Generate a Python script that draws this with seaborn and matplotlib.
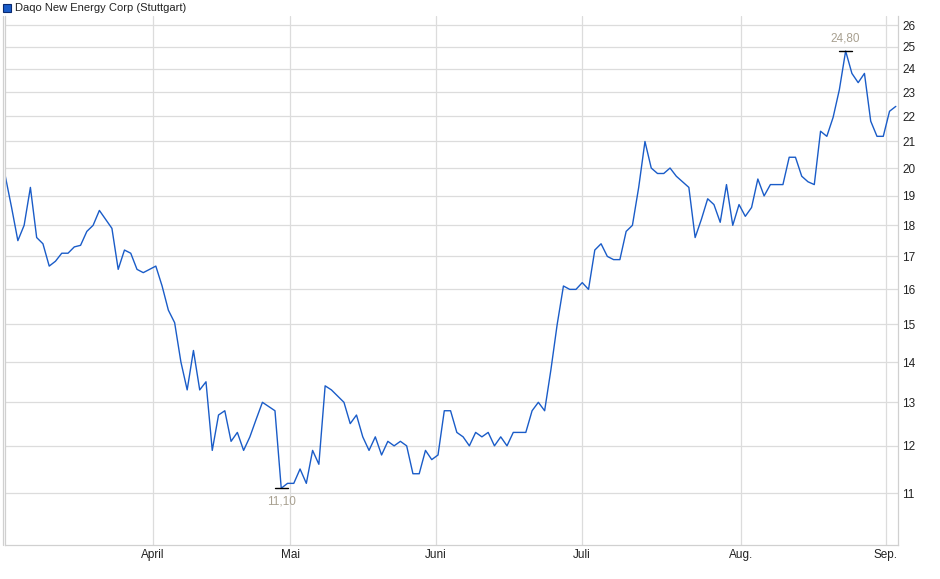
import matplotlib
matplotlib.use("Agg")
import matplotlib.pyplot as plt
from matplotlib.ticker import FixedLocator, NullLocator, FixedFormatter
import numpy as np
import pandas as pd
import seaborn as sns

values = [19.7, 18.6, 17.5, 18.0, 19.3, 17.6, 17.4, 16.7, 16.85, 17.1, 17.1, 17.3,
          17.35, 17.8, 18.0, 18.5, 18.2, 17.9, 16.6, 17.2, 17.1, 16.6, 16.5, 16.6,
          16.7, 16.1, 15.4, 15.05, 14.0, 13.3, 14.3, 13.3, 13.5, 11.9, 12.7, 12.8,
          12.1, 12.3, 11.9, 12.2, 12.6, 13.0, 12.9, 12.8, 11.1,
          11.2, 11.2, 11.5, 11.2, 11.9, 11.6, 13.4, 13.3, 13.15, 13.0, 12.5, 12.7,
          12.2, 11.9, 12.2, 11.8, 12.1, 12.0, 12.1, 12.0, 11.4, 11.4, 11.9, 11.7,
          11.8, 12.8, 12.8, 12.3, 12.2, 12.0, 12.3, 12.2, 12.3, 12.0, 12.2, 12.0,
          12.3, 12.3, 12.3, 12.8, 13.0, 12.8, 13.8, 15.0, 16.1, 16.0, 16.0, 16.2,
          16.0, 17.2, 17.4, 17.0, 16.9, 16.9, 17.8, 18.0, 19.3, 21.0, 20.0, 19.8,
          19.8, 20.0, 19.7, 19.5, 19.3, 17.6, 18.2, 18.9, 18.7, 18.1, 19.4, 18.0,
          18.7, 18.3, 18.6, 19.6, 19.0, 19.4, 19.4, 19.4, 20.4, 20.4, 19.7, 19.5,
          19.4, 21.4, 21.2, 21.95, 23.1, 24.8, 23.8, 23.4, 23.8, 21.8, 21.2, 21.2,
          22.2, 22.4]
y_ticks = [11, 12, 13, 14, 15, 16, 17, 18, 19, 20, 21, 22, 23, 24, 25, 26]
# Monatsanfaenge als Handelstag-Index
month_pos = [23.5, 45.4, 68.6, 91.9, 117.3, 140.4]
month_labels = ["April", "Mai", "Juni", "Juli", "Aug.", "Sep."]
name = "Daqo New Energy Corp (Stuttgart)"

df = pd.DataFrame({"tag": np.arange(len(values)), "kurs": values})

sns.set_style("white")
plt.rcParams["font.family"] = ["Liberation Sans", "DejaVu Sans"]

fig = plt.figure(figsize=(9.4, 5.79), dpi=100)
ax = fig.add_axes([5 / 940, 34 / 579, 893 / 940, 529 / 579])
sns.lineplot(data=df, x="tag", y="kurs", ax=ax, color="#1a5cc8", lw=1)

ax.set_yscale("log")
ax.set_ylim(10.0, 26.45)
ax.set_xlim(-0.05, len(values) - 0.65)
ax.yaxis.set_major_locator(FixedLocator(y_ticks))
ax.yaxis.set_major_formatter(FixedFormatter([str(t) for t in y_ticks]))
ax.yaxis.set_minor_locator(NullLocator())
ax.yaxis.tick_right()
ax.set_xticks(month_pos)
ax.set_xticklabels(month_labels)
ax.tick_params(axis="both", length=0, labelsize=8.5, colors="#222222", pad=3)
ax.grid(True, color="#dcdcdc", lw=0.9)
ax.set_xlabel("")
ax.set_ylabel("")
for s in ax.spines.values():
    s.set_color("#d0d0d0")
    s.set_linewidth(0.9)
ax.spines["top"].set_visible(False)
ax.axvline(-0.35, color="#d0d0d0", lw=0.9, clip_on=False)

# Hoch / Tief
imax = int(np.argmax(values))
imin = int(np.argmin(values))
for i, off, va in [(imax, 5, "bottom"), (imin, -5, "top")]:
    ax.plot([i - 1, i + 1], [values[i]] * 2, color="black", lw=1)
    ax.annotate(f"{values[i]:.2f}".replace(".", ","), (i, values[i]), xytext=(0, off),
                textcoords="offset points", ha="center", va=va, fontsize=8.5, color="#a8a090")

# Legende
fig.patches.append(plt.Rectangle((3 / 940, 1 - 12 / 579), 8 / 940, 8 / 579, transform=fig.transFigure,
                                 facecolor="#1a5cc8", edgecolor="#0a2a70", lw=0.8))
fig.text(15 / 940, 1 - 8 / 579, name, fontsize=8, va="center", ha="left", color="#222222")

fig.savefig("out.png", dpi=100)
